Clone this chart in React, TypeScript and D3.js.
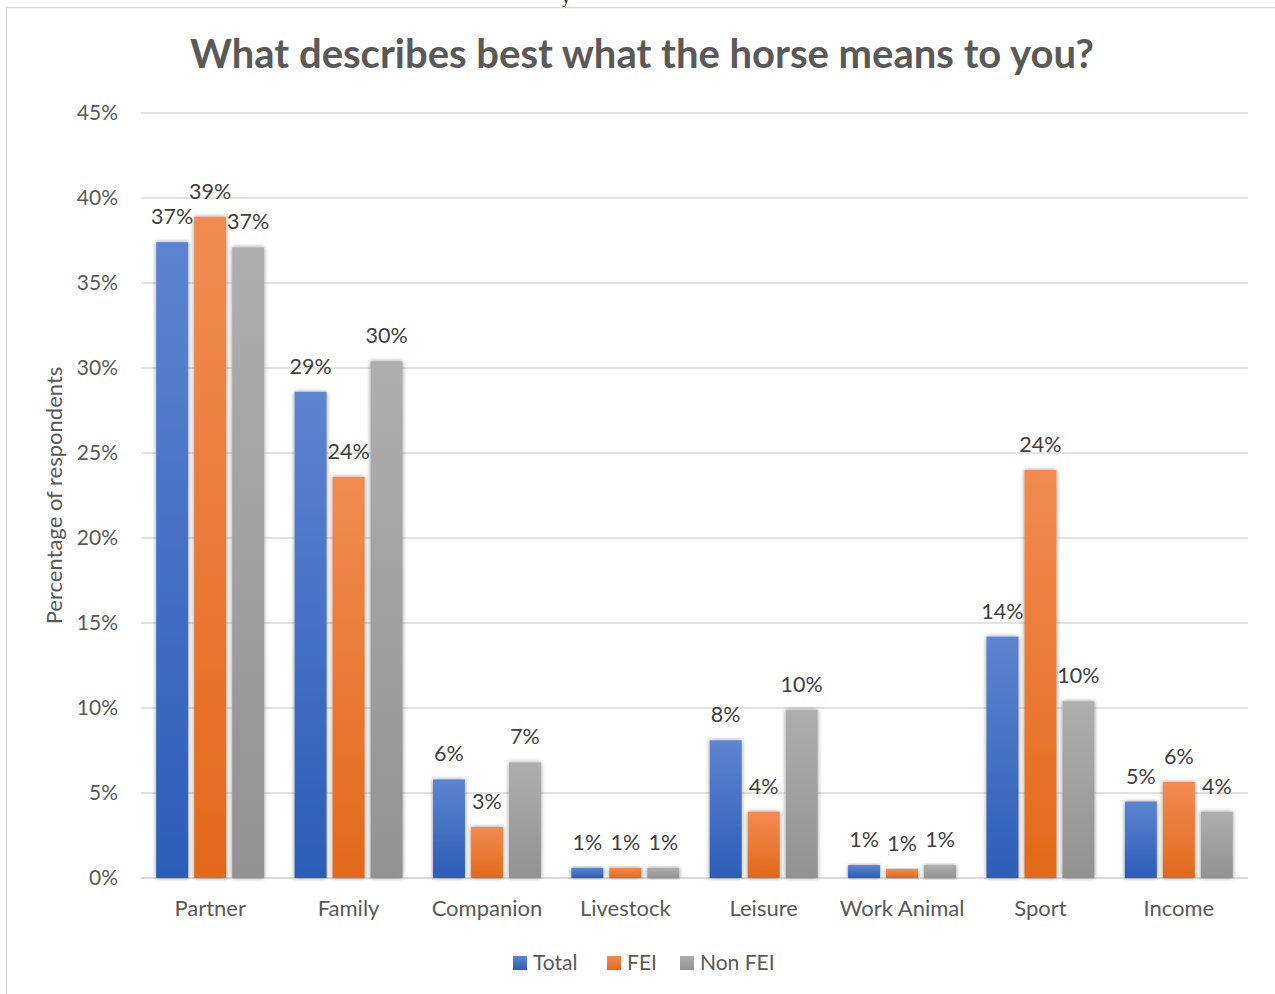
import React from "react";
import * as d3 from "d3";

const categories = ["Partner", "Family", "Companion", "Livestock", "Leisure", "Work Animal", "Sport", "Income"];
const seriesNames = ["Total", "FEI", "Non FEI"];
const totalValues = [37.4, 28.6, 5.8, 0.6, 8.1, 0.76, 14.2, 4.5];
const feiValues = [38.9, 23.6, 3.0, 0.6, 3.9, 0.53, 24.0, 5.65];
const nonFeiValues = [37.1, 30.4, 6.8, 0.6, 9.9, 0.76, 10.4, 3.9];
const yTicks = [0, 5, 10, 15, 20, 25, 30, 35, 40, 45];

const seriesValues = [totalValues, feiValues, nonFeiValues];
const gradients = [
  ["#5d84d0", "#2c5db8"],
  ["#f28b52", "#e2691a"],
  ["#aeaeae", "#929292"],
];

const W = 1275;
const H = 994;
const margin = { left: 141, right: 1248, top: 113, bottom: 878 };
const FONT = "Lato, 'Open Sans', sans-serif";
const TXT = "#595959";

export default function App() {
  const x = d3.scaleBand<string>().domain(categories).range([margin.left, margin.right]).padding(0);
  const xi = d3
    .scaleBand<string>()
    .domain(seriesNames)
    .range([0, x.bandwidth()])
    .paddingInner(0.158)
    .paddingOuter(0.4);
  const y = d3.scaleLinear().domain([0, 45]).range([margin.bottom, margin.top]);

  const legendItems = [
    { name: "Total", sx: 513, tx: 533 },
    { name: "FEI", sx: 607, tx: 627 },
    { name: "Non FEI", sx: 680, tx: 700 },
  ];

  return (
    <svg
      width={W}
      height={H}
      style={{ position: "absolute", left: 0, top: 0, background: "#fff" }}
      fontFamily={FONT}
    >
      <defs>
        {gradients.map((g, i) => (
          <linearGradient key={i} id={`grad${i}`} x1="0" y1="0" x2="0" y2="1">
            <stop offset="0%" stopColor={g[0]} />
            <stop offset="100%" stopColor={g[1]} />
          </linearGradient>
        ))}
        <filter id="shadow" x="-30%" y="-10%" width="160%" height="120%">
          <feGaussianBlur in="SourceAlpha" stdDeviation="2.2" />
          <feComponentTransfer>
            <feFuncA type="linear" slope="0.45" />
          </feComponentTransfer>
          <feMerge>
            <feMergeNode />
            <feMergeNode in="SourceGraphic" />
          </feMerge>
        </filter>
      </defs>
      <rect x={0} y={0} width={W} height={H} fill="#fff" />
      {/* border of chart area */}
      <line x1={6} y1={7.5} x2={W} y2={7.5} stroke="#d9d9d9" strokeWidth={1.5} />
      <line x1={6.5} y1={7} x2={6.5} y2={H} stroke="#d9d9d9" strokeWidth={1.5} />
      <text x={562} y={3} fontFamily="serif" fontSize={16} fill="#000">y</text>

      <text
        x={642}
        y={68}
        textAnchor="middle"
        fontSize={40}
        fontWeight="bold"
        fill={TXT}
      >
        What describes best what the horse means to you?
      </text>

      {/* gridlines */}
      {yTicks.map((t) => (
        <g key={t}>
          <line
            x1={margin.left}
            x2={margin.right}
            y1={y(t)}
            y2={y(t)}
            stroke="#d9d9d9"
            strokeWidth={t === 0 ? 2 : 1.3}
          />
          <text x={118} y={y(t) + 7} textAnchor="end" fontSize={21} fill={TXT}>
            {t}%
          </text>
        </g>
      ))}

      <text
        transform={`translate(62,${(margin.top + margin.bottom) / 2}) rotate(-90)`}
        textAnchor="middle"
        fontSize={22}
        fill={TXT}
      >
        Percentage of respondents
      </text>

      {/* bars */}
      {categories.map((c, ci) => (
        <g key={c} transform={`translate(${x(c)},0)`}>
          {seriesNames.map((s, si) => {
            const v = seriesValues[si][ci];
            const bx = xi(s)!;
            const bw = xi.bandwidth();
            return (
              <g key={s}>
                <rect
                  x={bx}
                  y={y(v)}
                  width={bw}
                  height={y(0) - y(v)}
                  fill={`url(#grad${si})`}
                  filter="url(#shadow)"
                />
                <text
                  x={bx + bw / 2}
                  y={y(v) - 18}
                  textAnchor="middle"
                  fontSize={21.5}
                  fill="#404040"
                >
                  {Math.round(v)}%
                </text>
              </g>
            );
          })}
          <text
            x={x.bandwidth() / 2}
            y={916}
            textAnchor="middle"
            fontSize={22}
            fill={TXT}
          >
            {c}
          </text>
        </g>
      ))}

      {/* legend */}
      {legendItems.map((l, i) => (
        <g key={l.name}>
          <rect x={l.sx} y={956} width={14} height={14} fill={`url(#grad${i})`} />
          <text x={l.tx} y={970} fontSize={21} fill={TXT}>
            {l.name}
          </text>
        </g>
      ))}
    </svg>
  );
}
